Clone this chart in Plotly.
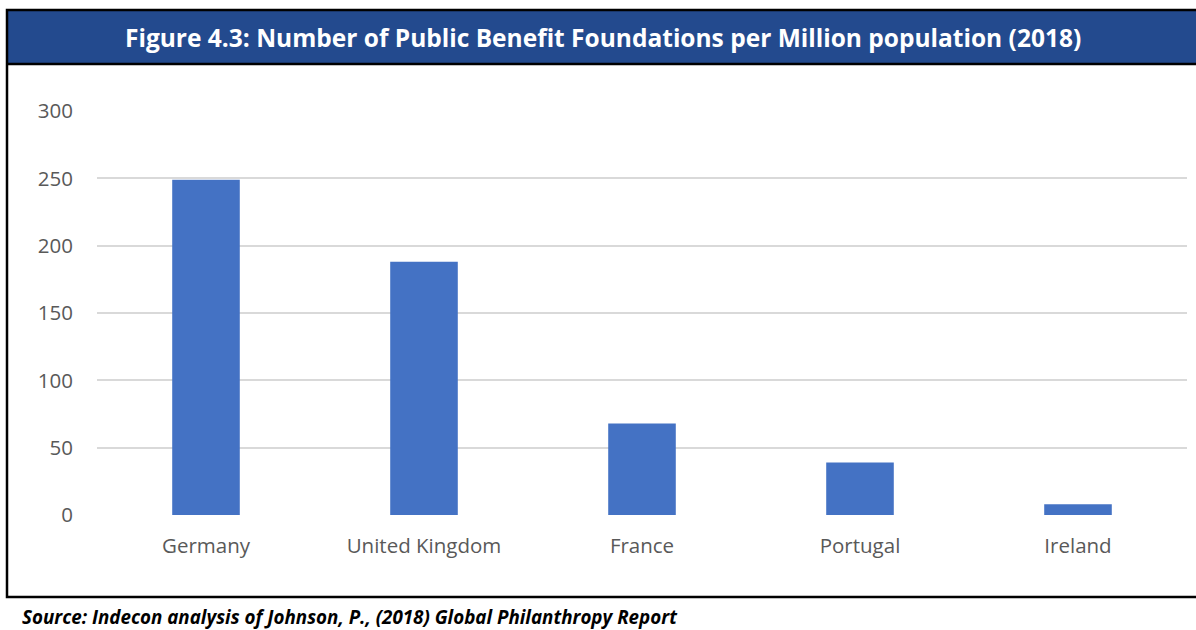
import plotly.graph_objects as go

categories = ["Germany", "United Kingdom", "France", "Portugal", "Ireland"]
values = [249, 188, 68, 39, 8]
y_ticks = [0, 50, 100, 150, 200, 250, 300]

W, H = 1196, 630
FONT = "Open Sans"

fig = go.Figure(go.Bar(x=categories, y=values, marker=dict(color="#4472C4", line=dict(width=0)), width=0.31))

def px(x):
    return x / W

def py(y):
    return 1 - y / H

fig.update_layout(
    width=W, height=H,
    margin=dict(l=0, r=0, t=0, b=0, pad=0, autoexpand=False),
    paper_bgcolor="white", plot_bgcolor="white",
    showlegend=False,
    font=dict(family=FONT, color="#595959", size=20.5),
    xaxis=dict(domain=[px(97), px(1187)], showgrid=False, showline=False, automargin=False,
               ticks="outside", ticklen=12, tickcolor="rgba(0,0,0,0)", zeroline=False),
    yaxis=dict(domain=[py(515), py(111)], range=[0, 300], tickvals=y_ticks, automargin=False,
               showgrid=True, gridcolor="#D9D9D9", gridwidth=1.5, zeroline=False,
               ticks="outside", ticklen=19, tickcolor="rgba(0,0,0,0)", showline=False),
    shapes=[
        dict(type="rect", xref="paper", yref="paper", x0=px(7), x1=px(1200), y0=py(10), y1=py(64),
             fillcolor="#234A8E", line=dict(width=0), layer="below"),
        dict(type="rect", xref="paper", yref="paper", x0=px(7), x1=px(1200), y0=py(10), y1=py(597),
             fillcolor="rgba(0,0,0,0)", line=dict(color="black", width=2.5)),
        dict(type="line", xref="paper", yref="paper", x0=px(7), x1=px(1200), y0=py(64), y1=py(64),
             line=dict(color="black", width=2.5)),
    ],
    annotations=[
        dict(text="<b>Figure 4.3: Number of Public Benefit Foundations per Million population (2018)</b>",
             xref="paper", yref="paper", x=px(603), y=py(37), xanchor="center", yanchor="middle",
             showarrow=False, font=dict(family=FONT, size=24.5, color="white")),
        dict(text="<b><i>Source: Indecon analysis of Johnson, P., (2018) Global Philanthropy Report</i></b>",
             xref="paper", yref="paper", x=px(20), y=py(617), xanchor="left", yanchor="middle",
             showarrow=False, font=dict(family=FONT, size=18.8, color="black")),
    ],
)

fig.write_html("out.html")
